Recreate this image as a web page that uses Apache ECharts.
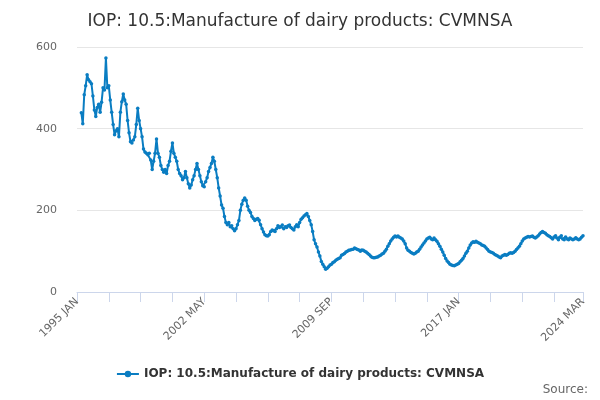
<!DOCTYPE html>
<html>
<head>
<meta charset="utf-8">
<script src="https://cdn.jsdelivr.net/npm/echarts@6/dist/echarts.min.js"></script>
<style>html,body{margin:0;padding:0;background:#fff}#c{width:600px;height:400px}</style>
</head>
<body>
<div id="c"></div>
<script>
"use strict";

const MONTHS = ["JAN","FEB","MAR","APR","MAY","JUN","JUL","AUG","SEP","OCT","NOV","DEC"];
const startYear = 1995;
const monthCount = 351; // 1995 JAN .. 2024 MAR
const months = [];
for (let i = 0; i < monthCount; i++) months.push((startYear + Math.floor(i / 12)) + " " + MONTHS[i % 12]);

const seriesName = "IOP: 10.5:Manufacture of dairy products: CVMNSA";
const values = [
  null, null, null, 439, 412, 483, 505, 532, 520, 515, 510, 480,
  446, 430, 452, 460, 440, 465, 500, 495, 573, 500, 505, 470,
  440, 410, 385, 395, 400, 380, 440, 466, 485, 470, 460, 420,
  390, 368, 365, 372, 380, 410, 450, 420, 400, 380, 350, 343,
  340, 336, 340, 323, 300, 320, 340, 375, 340, 330, 310, 300,
  293, 300, 290, 310, 320, 345, 365, 340, 330, 320, 300, 290,
  285, 275, 280, 295, 280, 265, 255, 262, 275, 285, 300, 315,
  300, 285, 270, 260, 258, 270, 280, 295, 305, 315, 330, 320,
  300, 280, 255, 235, 213, 205, 185, 170, 165, 170, 160, 162,
  155, 150, 155, 165, 175, 200, 215, 225, 230, 225, 210, 200,
  195, 185, 180, 175, 178, 180, 176, 165, 155, 147, 140, 138,
  137, 140, 148, 152, 150, 148, 155, 162, 158, 160, 164, 155,
  160, 158, 162, 164, 158, 155, 152, 160, 165, 160, 170, 178,
  182, 186, 189, 192, 185, 175, 165, 148, 128, 118, 110, 98,
  88, 75, 68, 62, 56, 58, 62, 66, 68, 72, 74, 78,
  80, 82, 84, 90, 92, 94, 98, 100, 102, 103, 104, 105,
  108, 106, 104, 103, 100, 103, 102, 100, 98, 95, 92, 88,
  85, 84, 84, 85, 86, 88, 90, 93, 95, 100, 105, 112,
  118, 125, 130, 134, 137, 135, 137, 134, 132, 130, 125, 118,
  108, 102, 100, 97, 95, 93, 95, 98, 100, 105, 110, 115,
  120, 125, 130, 132, 134, 130, 128, 132, 128, 124, 118, 112,
  105, 98, 90, 82, 76, 72, 68, 66, 65, 64, 66, 68,
  70, 74, 78, 82, 88, 95, 100, 108, 115, 120, 123, 122,
  124, 122, 120, 118, 115, 114, 112, 108, 104, 100, 98, 97,
  95, 92, 90, 88, 86, 84, 88, 90, 92, 90, 92, 95,
  96, 95, 97, 100, 104, 108, 112, 118, 125, 130, 132, 134,
  136, 135, 136, 137, 134, 132, 135, 138, 142, 146, 148, 146,
  144, 140, 138, 136, 133, 130, 135, 138, 132, 128, 134, 138,
  130, 128, 135, 130, 128, 132, 130, 128, 130, 133, 130, 128,
  130, 134, 138
];

const chart = echarts.init(document.getElementById("c"));
chart.setOption({
  animation: false,
  title: {
    text: seriesName, left: "center", top: 8,
    textStyle: { fontFamily: "DejaVu Sans", fontSize: 17, fontWeight: "normal", color: "#333" }
  },
  grid: { left: 77, right: 17, top: 47, bottom: 108 },
  legend: {
    bottom: 15, left: "center", itemWidth: 22, itemHeight: 8,
    textStyle: { fontFamily: "DejaVu Sans", fontSize: 12, fontWeight: "bold", color: "#333" }
  },
  graphic: [{
    type: "text", right: 12, bottom: 4,
    style: { text: "Source:", fontFamily: "DejaVu Sans", fontSize: 12, fill: "#666" }
  }],
  xAxis: {
    type: "category", data: months, boundaryGap: false,
    axisLine: { lineStyle: { color: "#ccd6eb" } },
    axisTick: { interval: 21, length: 10, lineStyle: { color: "#ccd6eb" } },
    axisLabel: {
      interval: 87, rotate: 45, color: "#666", fontFamily: "DejaVu Sans", fontSize: 11,
      showMaxLabel: true
    }
  },
  yAxis: {
    type: "value", min: 0, max: 600, interval: 200,
    axisLabel: { color: "#666", fontFamily: "DejaVu Sans", fontSize: 11, margin: 20 },
    splitLine: { lineStyle: { color: "#e6e6e6" } }
  },
  series: [{
    name: seriesName, type: "line", data: values,
    symbol: "circle", symbolSize: 3.5, showAllSymbol: true,
    itemStyle: { color: "#0a7dc2" },
    lineStyle: { width: 2, color: "#0a7dc2" }
  }]
});
</script>
</body>
</html>
